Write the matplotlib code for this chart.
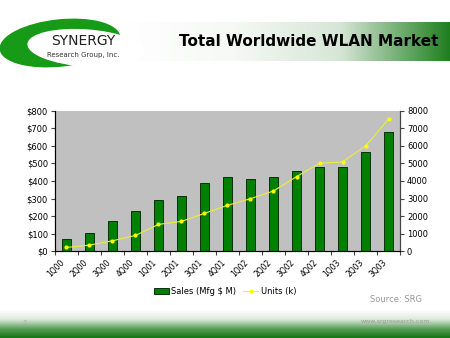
import numpy as np
import matplotlib
matplotlib.use("Agg")
import matplotlib.pyplot as plt
from matplotlib.patches import Ellipse
from matplotlib.colors import LinearSegmentedColormap

quarters = ["1Q00", "2Q00", "3Q00", "4Q00", "1Q01", "2Q01", "3Q01", "4Q01",
            "1Q02", "2Q02", "3Q02", "4Q02", "1Q03", "2Q03", "3Q03"]
sales = [67, 105, 173, 229, 290, 316, 389, 421, 410, 421, 459, 482, 478, 564, 678]
units = [210, 343, 590, 895, 1524, 1695, 2152, 2610, 2990, 3430, 4248, 5010, 5086, 6000, 7524]
sales_ticks = [0, 100, 200, 300, 400, 500, 600, 700, 800]
units_ticks = [0, 1000, 2000, 3000, 4000, 5000, 6000, 7000, 8000]

fig = plt.figure(figsize=(4.5, 3.38), dpi=100)

# background decorations in pixel coordinates
bg = fig.add_axes([0, 0, 1, 1])
bg.axis("off")
bg.add_patch(Ellipse((60, 43), 120, 46, angle=-6, color="#179a17"))
bg.add_patch(Ellipse((86, 48), 116, 36, angle=4, color="white"))
green_cm = LinearSegmentedColormap.from_list("g", ["#ffffff", "#f6f9f6", "#d6e6d6", "#1f7f1f"])
bg.imshow(np.linspace(0, 1, 256).reshape(1, -1), cmap=green_cm, extent=[122, 450, 61, 22], aspect="auto")
foot_cm = LinearSegmentedColormap.from_list("f", ["#ffffff", "#dde9dd", "#5aa05a", "#137313"])
bg.imshow(np.linspace(0, 1, 256).reshape(-1, 1), cmap=foot_cm, extent=[0, 450, 338, 310], aspect="auto")
bg.set_xlim(0, 450)
bg.set_ylim(338, 0)
bg.text(83, 41, "SYNERGY", fontsize=10, ha="center", va="center", color="#222222")
bg.text(83, 55, "Research Group, Inc.", fontsize=5, ha="center", va="center", color="#333333")
bg.text(309, 42, "Total Worldwide WLAN Market", fontsize=11, fontweight="bold", ha="center", va="center", color="black")
bg.text(396, 300, "Source: SRG", fontsize=6, ha="center", va="center", color="#999999")
bg.text(25, 322, "3", fontsize=4.5, ha="center", va="center", color="#aaaaaa")
bg.text(395, 322, "www.srgresearch.com", fontsize=4.5, ha="center", va="center", color="#999999")

ax = fig.add_axes([0.122, 0.257, 0.767, 0.415])
ax.set_facecolor("#c0c0c0")
x = np.arange(len(quarters))
bars = ax.bar(x, sales, width=0.42, color="#008000", edgecolor="#0a300a", linewidth=0.7, label="Sales (Mfg $ M)")
ax.set_xlim(-0.5, len(quarters) - 0.5)
ax.set_ylim(0, 800)
ax.set_yticks(sales_ticks)
ax.set_yticklabels(["$%d" % v for v in sales_ticks], fontsize=6)
ax.set_xticks(np.arange(len(quarters) + 1) - 0.5)
ax.set_xticklabels([])
ax.set_xticks(x, minor=True)
ax.set_xticklabels(quarters, minor=True, rotation=45, ha="right", fontsize=5.5)
ax.tick_params(axis="x", which="minor", length=0, pad=5)
ax.tick_params(axis="x", which="major", length=3, color="#444444")
ax.tick_params(axis="y", length=3, color="#444444", pad=2)
ax.spines["top"].set_visible(False)
ax.spines["left"].set_color("#444444")
ax.spines["bottom"].set_color("#444444")
ax.spines["right"].set_color("#444444")

ax2 = ax.twinx()
ln, = ax2.plot(x, units, color="#eeee33", lw=0.8, marker="o", markersize=2, markerfacecolor="#ffff00",
               markeredgecolor="#ffff00", label="Units (k)")
ax2.set_ylim(0, 8000)
ax2.set_yticks(units_ticks)
ax2.set_yticklabels([str(v) for v in units_ticks], fontsize=6)
ax2.tick_params(axis="y", length=3, color="#444444", pad=2)
ax2.spines["top"].set_visible(False)
ax2.spines["right"].set_color("#444444")

fig.legend([bars, ln], ["Sales (Mfg $ M)", "Units (k)"], loc="center", bbox_to_anchor=(0.5, 0.138),
           ncol=2, frameon=False, fontsize=6, handlelength=1.8, handletextpad=0.3, columnspacing=0.8)

fig.savefig("out.png", dpi=100)
